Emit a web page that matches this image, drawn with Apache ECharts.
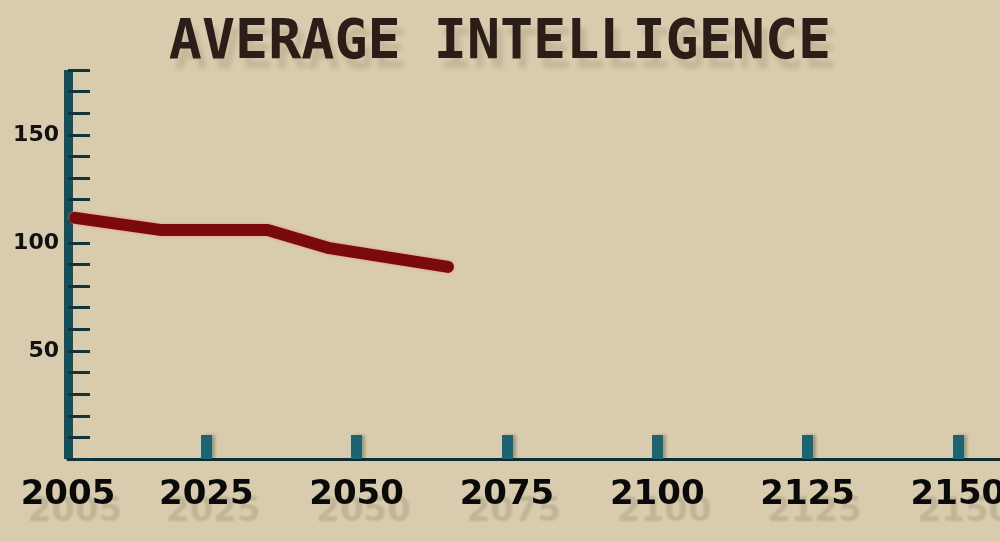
<!DOCTYPE html>
<html>
<head>
<meta charset="utf-8">
<script src="https://cdn.jsdelivr.net/npm/echarts@6/dist/echarts.min.js"></script>
<style>
html,body{margin:0;padding:0;background:#d9cbad;}
#chart{width:1000px;height:542px;}
</style>
</head>
<body>
<div id="chart"></div>
<script>
// Data
const titleText = 'AVERAGE INTELLIGENCE';
const years = [2003.2, 2017.3, 2035.2, 2045.2, 2065.2];
const intelligence = [111.6, 106, 106, 97.7, 88.9];
const xTickValues = [2002, 2025, 2050, 2075, 2100, 2125, 2150];
const xTickLabels = ['2005', '2025', '2050', '2075', '2100', '2125', '2150'];
const xTickMarks = [2025, 2050, 2075, 2100, 2125, 2150];
const yLabelValues = [50, 100, 150];

const chart = echarts.init(document.getElementById('chart'), null, {renderer: 'canvas'});
const shadow = {textShadowColor: 'rgba(60,40,20,0.14)', textShadowBlur: 2, textShadowOffsetX: 7, textShadowOffsetY: 17};
chart.setOption({
  backgroundColor: '#d9cbad',
  animation: false,
  title: {
    text: titleText,
    left: 'center',
    top: 11,
    textStyle: {
      fontFamily: 'DejaVu Sans Mono', fontWeight: 'bold', fontSize: 55, color: '#2b1d18',
      textShadowColor: 'rgba(60,40,20,0.12)', textShadowBlur: 4, textShadowOffsetX: 6, textShadowOffsetY: 10
    }
  },
  grid: {left: 68, right: 0, top: 70, bottom: 83, containLabel: false, outerBoundsMode: 'none'},
  xAxis: {
    type: 'value', min: 2002, max: 2157,
    splitLine: {show: false},
    axisLine: {show: true, lineStyle: {color: '#0e2e34', width: 3}},
    axisTick: {show: true, inside: true, length: 24, customValues: xTickMarks,
      lineStyle: {color: '#1b6472', width: 11, shadowColor: 'rgba(0,0,0,0.25)', shadowBlur: 3, shadowOffsetX: 3}},
    axisLabel: {
      customValues: xTickValues,
      formatter: v => { const i = xTickValues.indexOf(v); return i >= 0 ? xTickLabels[i] : ''; },
      margin: 19, fontFamily: 'DejaVu Sans', fontWeight: 'bold', fontSize: 34, color: '#0a0a0a',
      showMinLabel: true, showMaxLabel: true, hideOverlap: false, ...shadow
    }
  },
  yAxis: {
    type: 'value', min: 0, max: 180, interval: 10,
    splitLine: {show: false},
    axisLine: {show: true, lineStyle: {color: '#14505c', width: 9, cap: 'butt'}},
    axisTick: {show: true, inside: true, length: 22, lineStyle: {color: '#12343a', width: 3}},
    axisLabel: {
      customValues: yLabelValues,
      margin: 9, fontFamily: 'DejaVu Sans', fontWeight: 'bold', fontSize: 22, color: '#111'
    }
  },
  series: [{
    type: 'line',
    data: years.map((y, i) => [y, intelligence[i]]),
    showSymbol: false,
    lineStyle: {color: '#7b0a0c', width: 12, cap: 'round', join: 'round',
      shadowColor: 'rgba(240,130,120,0.9)', shadowBlur: 3},
    z: 5
  }]
});
</script>
</body>
</html>
